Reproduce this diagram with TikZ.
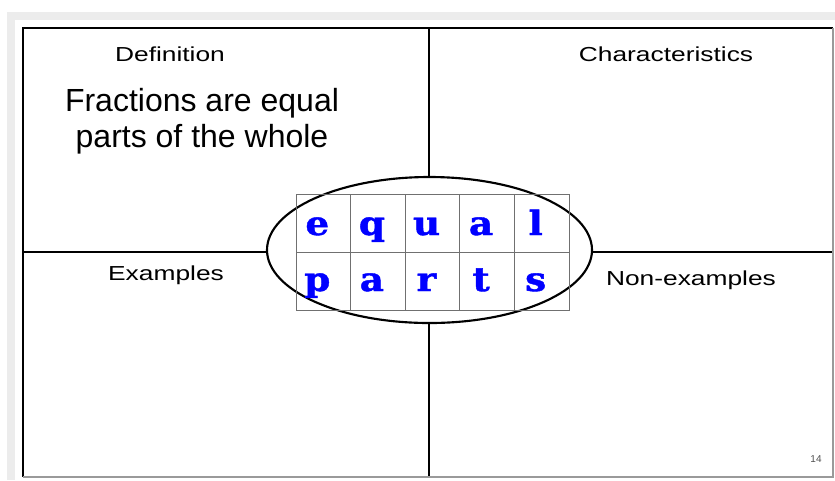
\documentclass[tikz,border=0pt]{standalone}
\usepackage{fontspec}
\usetikzlibrary{shapes.geometric}
\newfontfamily\arialf{Liberation Sans}
\newfontfamily\slabf{DejaVu Serif}[BoldFeatures={FakeBold=1.2}]
\definecolor{bggray}{HTML}{ECECEC}
\definecolor{gridgray}{HTML}{707070}
\definecolor{edgegray}{HTML}{9A9A9A}
\definecolor{numgray}{HTML}{505050}
\begin{document}
\begin{tikzpicture}[x=0.75pt,y=-0.75pt,
  lbl/.style={anchor=base, inner sep=0, font=\arialf\fontsize{15.2}{18}\selectfont},
  cell/.style={draw=gridgray, line width=0.75pt, minimum width=40.95pt, minimum height=43.5pt, inner sep=0},
  letterbox/.style={anchor=base, inner sep=0, text=blue, font=\slabf\bfseries\fontsize{25}{29}\selectfont},
  frameline/.style={line width=2pt, black},
  crossline/.style={line width=1.6pt, black}]
\useasboundingbox (0,0) rectangle (835,480);
% page background
\fill[bggray] (7,12) rectangle (835,480);
\fill[white] (15,20) rectangle (835,480);
% frame corners and cross ends
\coordinate (tl) at (23,28);
\coordinate (tr) at (833,28);
\coordinate (bl) at (23,477);
\coordinate (br) at (833,477);
\coordinate (mt) at (429,28);
\coordinate (mb) at (429,477);
\coordinate (ml) at (23,252);
\coordinate (mr) at (833,252);
\draw[crossline] (mt) -- (mb);
\draw[crossline] (ml) -- (mr);
\draw[frameline] (bl) -- (tl) -- (tr);
\draw[edgegray, line width=1.5pt] (tr) -- (br) -- (bl);
% oval
\node[ellipse, draw, fill=white, line width=1.6pt, minimum width=243.75pt, minimum height=109.5pt, inner sep=0] (oval) at (429.5,250) {};
% table cells and letters
\foreach \l [count=\i] in {e,q,u,a,l}{
  \node[cell] (a\i) at (296+54.6*\i-27.3,223) {};
  \node[letterbox] (la\i) at ([xshift=-4.5pt,yshift=-9pt]a\i.center) {\scalebox{1.12}[1]{\l}};
}
\foreach \l [count=\i] in {p,a,r,t,s}{
  \node[cell] (b\i) at (296+54.6*\i-27.3,281) {};
  \node[letterbox] (lb\i) at ([xshift=-4.5pt,yshift=-7.5pt]b\i.center) {\scalebox{1.12}[1]{\l}};
}
% labels
\node[lbl] (def) at (170,61) {\scalebox{1.3}[1]{Definition}};
\node[lbl] (char) at (666,61) {\scalebox{1.3}[1]{Characteristics}};
\node[lbl] (ex) at (166,280) {\scalebox{1.3}[1]{Examples}};
\node[lbl] (nonex) at (691,285) {\scalebox{1.3}[1]{Non-examples}};
\node[anchor=base, inner sep=0, align=center, font=\arialf\fontsize{24}{27}\selectfont] (frac) at (202,147) {Fractions are equal\\parts of the whole};
\node[anchor=base, inner sep=0, text=numgray, font=\arialf\fontsize{7.5}{9}\selectfont] (num) at (816,462) {14};
\end{tikzpicture}
\end{document}
